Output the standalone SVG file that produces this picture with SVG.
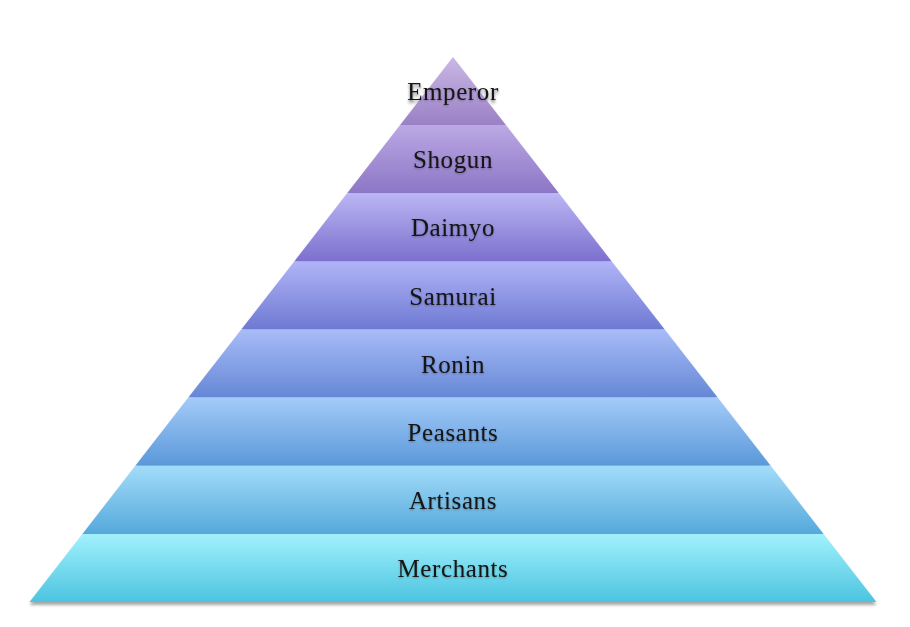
<svg xmlns="http://www.w3.org/2000/svg" width="910" height="627" viewBox="0 0 910 627">
<defs>
<linearGradient id="g1" x1="0" y1="0" x2="0" y2="1"><stop offset="0" stop-color="#cbb8e6"/><stop offset="1" stop-color="#9a80c5"/></linearGradient>
<linearGradient id="g2" x1="0" y1="0" x2="0" y2="1"><stop offset="0" stop-color="#bba8e4"/><stop offset="1" stop-color="#8c76c6"/></linearGradient>
<linearGradient id="g3" x1="0" y1="0" x2="0" y2="1"><stop offset="0" stop-color="#bbb6f4"/><stop offset="1" stop-color="#7b70cd"/></linearGradient>
<linearGradient id="g4" x1="0" y1="0" x2="0" y2="1"><stop offset="0" stop-color="#b0b4f7"/><stop offset="1" stop-color="#6e79d2"/></linearGradient>
<linearGradient id="g5" x1="0" y1="0" x2="0" y2="1"><stop offset="0" stop-color="#a8bcf8"/><stop offset="1" stop-color="#6587d6"/></linearGradient>
<linearGradient id="g6" x1="0" y1="0" x2="0" y2="1"><stop offset="0" stop-color="#a4cbf9"/><stop offset="1" stop-color="#5a98d9"/></linearGradient>
<linearGradient id="g7" x1="0" y1="0" x2="0" y2="1"><stop offset="0" stop-color="#a3dcf9"/><stop offset="1" stop-color="#55a9dc"/></linearGradient>
<linearGradient id="g8" x1="0" y1="0" x2="0" y2="1"><stop offset="0" stop-color="#a2f1fd"/><stop offset="1" stop-color="#4cc4e0"/></linearGradient>
<filter id="sh" x="-5%" y="-5%" width="110%" height="115%">
<feGaussianBlur in="SourceAlpha" stdDeviation="1.5"/>
<feOffset dx="0" dy="2.5" result="b"/>
<feComponentTransfer><feFuncA type="linear" slope="0.35"/></feComponentTransfer>
<feMerge><feMergeNode/><feMergeNode in="SourceGraphic"/></feMerge>
</filter>
<filter id="ts" x="-10%" y="-20%" width="120%" height="140%">
<feGaussianBlur in="SourceAlpha" stdDeviation="1"/>
<feOffset dx="0" dy="1"/>
<feComponentTransfer><feFuncA type="linear" slope="0.3"/></feComponentTransfer>
<feMerge><feMergeNode/><feMergeNode in="SourceGraphic"/></feMerge>
</filter>
</defs>
<style>
.lbl{font-family:"Liberation Serif","DejaVu Serif",serif;font-size:25px;fill:#141414;text-anchor:middle;letter-spacing:0.6px;filter:url(#ts)}
</style>
<g filter="url(#sh)">
<g id="emperor"><polygon points="453,57 505.9,125.1 400.1,125.1" fill="url(#g1)"/><text class="lbl" x="453" y="100">Emperor</text></g>
<g id="shogun"><polygon points="400.1,125.1 505.9,125.1 558.9,193.3 347.1,193.3" fill="url(#g2)"/><text class="lbl" x="453" y="168">Shogun</text></g>
<g id="daimyo"><polygon points="347.1,193.3 558.9,193.3 611.8,261.4 294.2,261.4" fill="url(#g3)"/><text class="lbl" x="453" y="236">Daimyo</text></g>
<g id="samurai"><polygon points="294.2,261.4 611.8,261.4 664.75,329.5 241.25,329.5" fill="url(#g4)"/><text class="lbl" x="453" y="305">Samurai</text></g>
<g id="ronin"><polygon points="241.25,329.5 664.75,329.5 717.7,397.6 188.3,397.6" fill="url(#g5)"/><text class="lbl" x="453" y="373">Ronin</text></g>
<g id="peasants"><polygon points="188.3,397.6 717.7,397.6 770.7,465.8 135.3,465.8" fill="url(#g6)"/><text class="lbl" x="453" y="441">Peasants</text></g>
<g id="artisans"><polygon points="135.3,465.8 770.7,465.8 823.6,533.9 82.4,533.9" fill="url(#g7)"/><text class="lbl" x="453" y="509">Artisans</text></g>
<g id="merchants"><polygon points="82.4,533.9 823.6,533.9 876.5,602 29.5,602" fill="url(#g8)"/><text class="lbl" x="453" y="577">Merchants</text></g>
</g>
<g id="connectors"/>
</svg>
